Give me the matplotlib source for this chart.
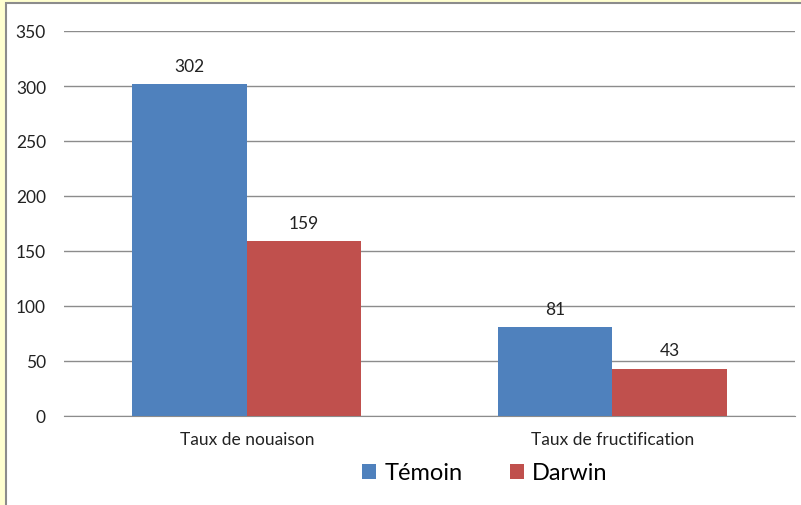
import numpy as np
import matplotlib.pyplot as plt
from matplotlib.patches import Rectangle, Patch

categories = ['Taux de nouaison', 'Taux de fructification']
series_names = ['Témoin', 'Darwin']
temoin = [302, 81]
darwin = [159, 43]
yticks = [0, 50, 100, 150, 200, 250, 300, 350]

colors = ['#4F81BD', '#C0504D']
plt.rcParams['font.family'] = ['Lato', 'DejaVu Sans']

fig = plt.figure(figsize=(8.01, 5.06), dpi=100)
fig.patch.set_facecolor('#FFFFD0')
# cadre blanc du graphique (derrière les axes)
fig.patches.append(Rectangle((6 / 801, -0.05), 1.1, 1.05 - 4 / 506, transform=fig.transFigure,
                             facecolor='white', edgecolor='#8C8C8C', linewidth=1.5, zorder=-5))

ax = fig.add_axes([64 / 801, (506 - 417) / 506, (795 - 64) / 801, (417 - 32) / 506])
ax.set_facecolor('none')

x = np.arange(len(categories))
w = 0.3135
for i, vals in enumerate([temoin, darwin]):
    pos = x + (i - 0.5) * w
    bars = ax.bar(pos, vals, width=w, color=colors[i], zorder=3)
    for b, v in zip(bars, vals):
        ax.text(b.get_x() + b.get_width() / 2, v + 12, str(v), ha='center', va='baseline',
                fontsize=12.5, color='#222222')

ax.set_xlim(-0.5, 1.5)
ax.set_ylim(0, 350)
ax.set_yticks(yticks)
ax.set_yticklabels([str(t) for t in yticks], fontsize=12.5, color='#222222')
ax.set_xticks(x)
ax.set_xticklabels(categories, fontsize=12.5, color='#222222')
ax.tick_params(axis='y', length=0, pad=13)
ax.tick_params(axis='x', length=0, pad=11)
ax.grid(axis='y', color='#8C8C8C', linewidth=1, zorder=0)
for s in ['top', 'right', 'left']:
    ax.spines[s].set_visible(False)
ax.spines['bottom'].set_color('#8C8C8C')

handles = [Patch(facecolor=c) for c in colors]
fig.legend(handles, series_names, loc='center', bbox_to_anchor=(485 / 801, 1 - 474 / 506),
           ncol=2, frameon=False, fontsize=17, handlelength=0.6, handleheight=0.6,
           handletextpad=0.35, columnspacing=2.0)

fig.savefig('out.png', dpi=100, facecolor=fig.get_facecolor())
